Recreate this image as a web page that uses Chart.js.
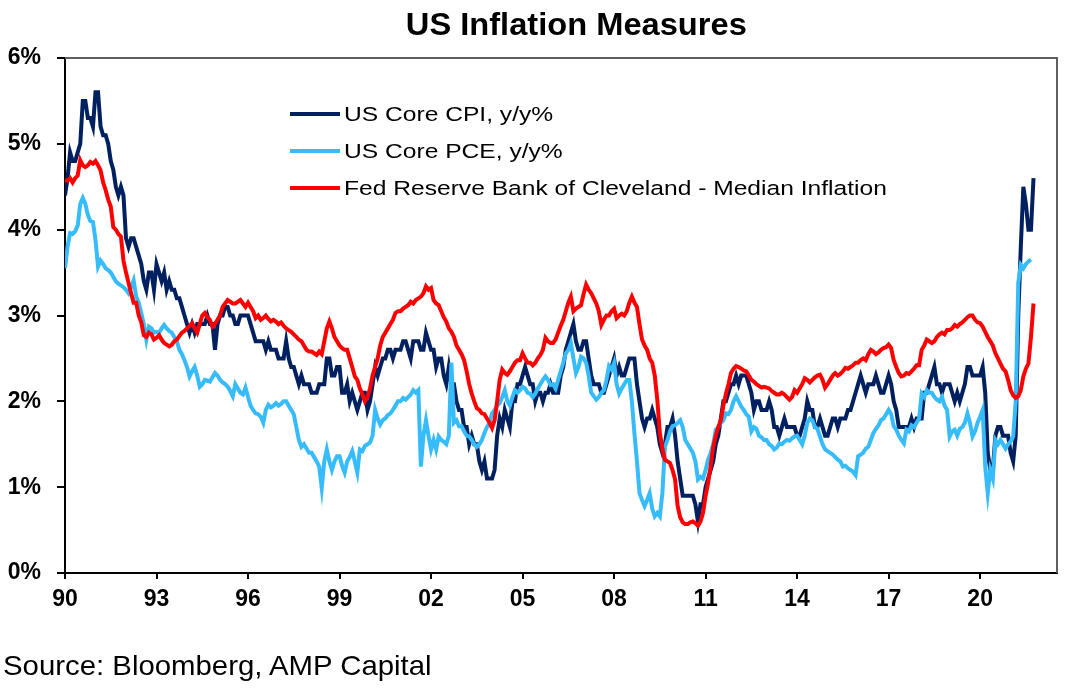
<!DOCTYPE html>
<html>
<head>
<meta charset="utf-8">
<title>US Inflation Measures</title>
<script src="https://cdn.jsdelivr.net/npm/chart.js@4.4.1/dist/chart.umd.min.js"></script>
<style>
  body { margin: 0; background: #fff; font-family: "Liberation Sans", Arial, sans-serif; color: #000; }
  #wrap { position: relative; width: 1084px; height: 695px; overflow: hidden; }
  #title { position: absolute; left: 0; top: 7px; width: 1152px; text-align: center; font-weight: bold; font-size: 30.5px; line-height: 34px; }
  #title span { display: inline-block; transform: scaleX(1.07); }
  #source { position: absolute; left: 3px; top: 649px; font-size: 28.5px; line-height: 32px; white-space: nowrap; }
  #source span { display: inline-block; transform: scaleX(1.03); transform-origin: left center; }
  #legend { position: absolute; left: 290px; top: 95.5px; }
  .item { display: flex; align-items: center; height: 37px; white-space: nowrap; }
  .swatch { width: 50px; height: 4px; margin-right: 4px; }
  .label { font-size: 20.5px; display: inline-block; transform: scaleX(1.2); transform-origin: left center; }
</style>
</head>
<body>
<div id="wrap">
  <canvas id="chart" width="1084" height="695"></canvas>
  <div id="title"><span>US Inflation Measures</span></div>
  <div id="legend"></div>
  <div id="source"><span>Source: Bloomberg, AMP Capital</span></div>
</div>
<script>
// Monthly y/y %, Jan 1990 onwards (one row per year)
const coreCpi = [
  4.4, 4.6, 4.9, 4.8, 4.8, 4.9, 5.0, 5.5, 5.5, 5.3, 5.3, 5.2,
  5.6, 5.6, 5.2, 5.1, 5.1, 5.0, 4.8, 4.7, 4.5, 4.4, 4.5, 4.4,
  3.9, 3.8, 3.9, 3.9, 3.8, 3.7, 3.6, 3.4, 3.3, 3.5, 3.5, 3.3,
  3.6, 3.5, 3.4, 3.5, 3.3, 3.4, 3.3, 3.3, 3.2, 3.2, 3.1, 3.0,
  2.9, 2.8, 2.9, 2.8, 2.9, 2.9, 2.9, 2.9, 3.0, 2.9, 2.9, 2.6,
  2.9, 3.0, 3.0, 3.1, 3.1, 3.0, 3.0, 2.9, 2.9, 3.0, 3.0, 3.0,
  3.0, 2.9, 2.8, 2.7, 2.7, 2.7, 2.7, 2.6, 2.7, 2.6, 2.6, 2.6,
  2.5, 2.5, 2.5, 2.7, 2.5, 2.4, 2.4, 2.3, 2.2, 2.3, 2.2, 2.2,
  2.2, 2.1, 2.1, 2.1, 2.2, 2.2, 2.2, 2.5, 2.5, 2.3, 2.3, 2.4,
  2.4, 2.1, 2.1, 2.2, 2.0, 2.1, 2.0, 1.9, 2.0, 2.1, 2.1, 1.9,
  2.0, 2.2, 2.4, 2.3, 2.4, 2.5, 2.5, 2.6, 2.6, 2.5, 2.6, 2.6,
  2.6, 2.7, 2.7, 2.6, 2.5, 2.7, 2.7, 2.7, 2.6, 2.6, 2.8, 2.7,
  2.6, 2.6, 2.4, 2.5, 2.5, 2.3, 2.2, 2.4, 2.2, 2.2, 2.0, 1.9,
  1.9, 1.7, 1.7, 1.5, 1.6, 1.5, 1.5, 1.3, 1.2, 1.3, 1.1, 1.1,
  1.1, 1.2, 1.6, 1.8, 1.7, 1.9, 1.8, 1.7, 2.0, 2.0, 2.2, 2.2,
  2.3, 2.4, 2.3, 2.2, 2.2, 2.0, 2.1, 2.1, 2.0, 2.1, 2.1, 2.2,
  2.1, 2.1, 2.1, 2.3, 2.4, 2.6, 2.7, 2.8, 2.9, 2.7, 2.6, 2.6,
  2.7, 2.7, 2.5, 2.3, 2.2, 2.2, 2.2, 2.1, 2.1, 2.2, 2.3, 2.4,
  2.5, 2.3, 2.4, 2.3, 2.3, 2.4, 2.5, 2.5, 2.5, 2.2, 2.0, 1.8,
  1.7, 1.8, 1.8, 1.9, 1.8, 1.7, 1.5, 1.4, 1.5, 1.7, 1.7, 1.8,
  1.6, 1.3, 1.1, 0.9, 0.9, 0.9, 0.9, 0.9, 0.8, 0.6, 0.8, 0.8,
  1.0, 1.1, 1.2, 1.3, 1.5, 1.6, 1.8, 2.0, 2.0, 2.1, 2.2, 2.2,
  2.3, 2.2, 2.3, 2.3, 2.3, 2.2, 2.1, 1.9, 2.0, 2.0, 1.9, 1.9,
  1.9, 2.0, 1.9, 1.7, 1.7, 1.6, 1.7, 1.8, 1.7, 1.7, 1.7, 1.7,
  1.6, 1.6, 1.7, 1.8, 2.0, 1.9, 1.9, 1.7, 1.7, 1.8, 1.7, 1.6,
  1.6, 1.7, 1.8, 1.8, 1.7, 1.8, 1.8, 1.8, 1.9, 1.9, 2.0, 2.1,
  2.2, 2.3, 2.2, 2.1, 2.2, 2.2, 2.2, 2.3, 2.2, 2.1, 2.1, 2.2,
  2.3, 2.2, 2.0, 1.9, 1.7, 1.7, 1.7, 1.7, 1.7, 1.8, 1.7, 1.8,
  1.8, 1.8, 2.1, 2.1, 2.2, 2.3, 2.4, 2.2, 2.2, 2.1, 2.2, 2.2,
  2.2, 2.1, 2.0, 2.1, 2.0, 2.1, 2.2, 2.4, 2.4, 2.3, 2.3, 2.3,
  2.3, 2.4, 2.1, 1.4, 1.2, 1.2, 1.6, 1.7, 1.7, 1.6, 1.6, 1.6,
  1.4, 1.3, 1.6, 3.0, 3.8, 4.5, 4.3, 4.0, 4.0, 4.6
];

const corePce = [
  3.55, 3.8, 3.96, 3.95, 3.98, 4.05, 4.3, 4.37, 4.3, 4.17, 4.1, 4.09,
  3.88, 3.57, 3.64, 3.6, 3.55, 3.53, 3.5, 3.45, 3.4, 3.37, 3.35, 3.33,
  3.3, 3.26, 3.33, 3.41, 3.22, 3.15, 3.03, 2.9, 2.72, 2.87, 2.85, 2.8,
  2.81, 2.8, 2.85, 2.89, 2.85, 2.82, 2.8, 2.75, 2.7, 2.6, 2.55, 2.48,
  2.4, 2.29, 2.35, 2.4, 2.3, 2.17, 2.2, 2.25, 2.24, 2.23, 2.28, 2.33,
  2.3, 2.25, 2.22, 2.2, 2.17, 2.12, 2.06, 2.2, 2.15, 2.1, 2.08, 2.16,
  2.05, 1.95, 1.9, 1.86, 1.85, 1.82, 1.75, 1.9, 1.96, 1.93, 1.95, 1.98,
  1.95, 1.97, 2.0, 2.0, 1.95, 1.9, 1.85, 1.7, 1.55, 1.47, 1.5, 1.45,
  1.4, 1.4, 1.35, 1.3, 1.24, 0.99, 1.3, 1.44, 1.3, 1.2, 1.3, 1.36,
  1.36, 1.25, 1.17, 1.3, 1.35, 1.42, 1.3, 1.17, 1.44, 1.42, 1.48, 1.5,
  1.52, 1.6, 1.9, 1.8, 1.73, 1.78, 1.8, 1.84, 1.86, 1.9, 1.95, 2.0,
  2.0, 2.04, 2.02, 2.05, 2.08, 2.13, 2.1, 2.13, 1.24, 1.6, 1.78, 1.6,
  1.44, 1.55, 1.44, 1.59, 1.55, 1.53, 1.5, 1.6, 2.45, 1.75, 1.78, 1.71,
  1.71, 1.65, 1.6, 1.59, 1.55, 1.5, 1.47, 1.5, 1.55, 1.63, 1.7, 1.75,
  1.86, 1.9, 1.95, 1.98, 2.05, 2.13, 2.0, 1.95, 2.05, 2.13, 2.1, 2.13,
  2.17, 2.15, 2.1, 2.09, 2.05, 2.09, 2.15, 2.2, 2.25, 2.29, 2.25, 2.19,
  2.2, 2.15, 2.25, 2.35, 2.45, 2.56, 2.6, 2.68, 2.5, 2.33, 2.4, 2.52,
  2.5, 2.45, 2.3, 2.1, 2.06, 2.02, 2.05, 2.1, 2.13, 2.25, 2.41, 2.37,
  2.45, 2.2, 2.09, 2.15, 2.2, 2.25, 2.25, 2.0, 1.63, 1.3, 0.93, 0.85,
  0.78, 0.85, 0.93, 0.75, 0.66, 0.7, 0.66, 0.93, 1.47, 1.55, 1.65, 1.71,
  1.72, 1.75, 1.78, 1.7, 1.55, 1.5, 1.45, 1.4, 1.3, 1.09, 1.12, 1.1,
  1.2, 1.32, 1.4, 1.5, 1.67, 1.7, 1.75, 1.78, 1.86, 1.85, 1.9, 2.0,
  2.06, 2.0, 1.94, 1.9, 1.85, 1.82, 1.65, 1.7, 1.68, 1.6, 1.58, 1.55,
  1.55, 1.5, 1.48, 1.44, 1.46, 1.51, 1.5, 1.53, 1.55, 1.54, 1.57, 1.59,
  1.6, 1.55, 1.5, 1.6, 1.75, 1.8, 1.78, 1.7, 1.68, 1.59, 1.5, 1.44,
  1.42, 1.4, 1.38, 1.35, 1.32, 1.3, 1.24, 1.25, 1.22, 1.2, 1.18, 1.14,
  1.36, 1.38, 1.4, 1.45, 1.47, 1.55, 1.63, 1.68, 1.72, 1.78, 1.8, 1.85,
  1.9, 1.85, 1.71, 1.67, 1.6, 1.55, 1.51, 1.67, 1.65, 1.72, 1.7, 1.75,
  1.8, 2.09, 2.05, 2.13, 2.1, 2.1, 2.05, 2.02, 2.0, 2.05, 1.95, 1.9,
  1.59, 1.65, 1.67, 1.6, 1.68, 1.7, 1.75, 1.86, 1.75, 1.59, 1.65, 1.75,
  1.82, 1.9, 1.24, 0.93, 1.2, 1.1, 1.55, 1.5, 1.55, 1.5, 1.45, 1.5,
  1.53, 1.59, 2.0, 3.38, 3.59, 3.55, 3.6, 3.63, 3.65
];

const medianCpi = [
  4.58, 4.57, 4.6, 4.55, 4.6, 4.63, 4.81, 4.75, 4.73, 4.75, 4.79, 4.77,
  4.8, 4.75, 4.69, 4.55, 4.46, 4.35, 4.27, 4.03, 4.0, 3.95, 3.92, 3.64,
  3.5, 3.38, 3.26, 3.15, 3.15, 3.0, 2.92, 2.77, 2.75, 2.8, 2.78, 2.72,
  2.74, 2.77, 2.72, 2.68, 2.66, 2.64, 2.66, 2.7, 2.72, 2.76, 2.8, 2.82,
  2.85, 2.88, 2.91, 2.85, 2.8, 2.9, 3.0, 3.03, 2.98, 2.95, 2.87, 2.9,
  2.95, 3.0, 3.1, 3.14, 3.18, 3.16, 3.14, 3.14, 3.16, 3.18, 3.14, 3.1,
  3.15, 3.1, 3.05, 2.97, 3.0, 2.95, 2.97, 3.0, 2.96, 2.93, 2.95, 2.93,
  2.9, 2.92, 2.88, 2.85, 2.83, 2.81, 2.78, 2.75, 2.72, 2.7, 2.65, 2.6,
  2.58, 2.58, 2.56, 2.54, 2.58, 2.55, 2.7, 2.85, 2.93, 2.85, 2.75, 2.7,
  2.65, 2.62, 2.6, 2.6, 2.5, 2.4, 2.29, 2.25, 2.15, 2.08, 2.0, 2.05,
  2.15, 2.3, 2.4, 2.5, 2.65, 2.75, 2.8, 2.85, 2.9, 2.95, 3.03, 3.05,
  3.05, 3.08, 3.1, 3.12, 3.16, 3.14, 3.18, 3.2, 3.22, 3.26, 3.34, 3.3,
  3.32, 3.18, 3.14, 3.12, 3.05, 2.98, 2.93, 2.85, 2.81, 2.75, 2.65, 2.6,
  2.55, 2.48, 2.35, 2.2, 2.09, 2.0, 1.92, 1.9, 1.86, 1.85, 1.8, 1.75,
  1.69, 1.78, 2.0, 2.25, 2.37, 2.33, 2.31, 2.35, 2.4, 2.45, 2.48, 2.48,
  2.56, 2.5, 2.45, 2.45, 2.42, 2.45, 2.5, 2.54, 2.6, 2.74, 2.7, 2.68,
  2.68, 2.72, 2.8, 2.88, 2.95, 3.05, 3.15, 3.22, 3.05, 3.08, 3.1, 3.12,
  3.25, 3.36, 3.3, 3.26, 3.2, 3.14, 3.05, 2.89, 2.95, 3.0, 3.0, 3.05,
  3.08, 2.97, 3.0, 3.02, 3.0, 3.05, 3.15, 3.22, 3.15, 3.1, 2.9, 2.72,
  2.65, 2.6, 2.5, 2.45, 2.3, 2.02, 1.63, 1.45, 1.32, 1.3, 1.28, 1.2,
  1.09, 0.78, 0.65, 0.59, 0.57, 0.57, 0.59, 0.6, 0.58, 0.55, 0.6, 0.7,
  0.9, 1.05, 1.25, 1.47, 1.6, 1.7, 1.78, 1.95, 2.09, 2.2, 2.33, 2.38,
  2.41, 2.4, 2.38, 2.36, 2.35, 2.3, 2.25, 2.23, 2.2, 2.18, 2.16, 2.17,
  2.16, 2.15, 2.12, 2.1, 2.08, 2.08, 2.1, 2.08, 2.05, 2.02, 2.05, 2.13,
  2.1, 2.15, 2.2, 2.27, 2.25, 2.22, 2.25, 2.28, 2.3, 2.31, 2.25, 2.16,
  2.2, 2.25, 2.3, 2.33, 2.3, 2.32, 2.35, 2.39, 2.38, 2.4, 2.42, 2.45,
  2.45, 2.48, 2.5, 2.48, 2.55, 2.6, 2.58, 2.55, 2.57, 2.6, 2.62, 2.63,
  2.66, 2.62, 2.48, 2.4, 2.33, 2.29, 2.3, 2.33, 2.32, 2.35, 2.38, 2.42,
  2.42, 2.6, 2.65, 2.72, 2.7, 2.68, 2.7, 2.75, 2.78, 2.8, 2.78, 2.83,
  2.83, 2.85, 2.89, 2.87, 2.9, 2.92, 2.95, 2.98, 3.0, 3.0, 2.95, 2.92,
  2.91, 2.87, 2.81, 2.75, 2.7, 2.65, 2.56, 2.5, 2.44, 2.38, 2.35, 2.25,
  2.13, 2.07, 2.04, 2.06, 2.13, 2.29, 2.38, 2.44, 2.75, 3.14
];

const startYear = 1990;
const xTicks = [1990, 1993, 1996, 1999, 2002, 2005, 2008, 2011, 2014, 2017, 2020];
const yTicks = [0, 1, 2, 3, 4, 5, 6];

// x position of each month as a decimal year (Jan 1990 = 1990.0)
const months = coreCpi.map((v, i) => startYear + i / 12);

const tickFont = { family: "'Liberation Sans', Arial, sans-serif", size: 23, weight: 'bold' };

// grey frame on top and right of the plot
const framePlugin = {
  id: 'frame',
  afterDraw(chart) {
    const { ctx, chartArea: a } = chart;
    ctx.save();
    ctx.strokeStyle = '#5f5f5f';
    ctx.lineWidth = 2;
    ctx.beginPath();
    ctx.moveTo(a.left, a.top);
    ctx.lineTo(a.right, a.top);
    ctx.lineTo(a.right, a.bottom);
    ctx.stroke();
    ctx.restore();
  }
};

const myChart = new Chart(document.getElementById('chart'), {
  type: 'line',
  data: {
    labels: months,
    datasets: [
      { label: 'US Core CPI, y/y%', data: coreCpi, borderColor: '#002060', order: 2 },
      { label: 'US Core PCE, y/y%', data: corePce, borderColor: '#36bcfb', order: 1 },
      { label: 'Fed Reserve Bank of Cleveland - Median Inflation', data: medianCpi, borderColor: '#ff0000', order: 0 }
    ]
  },
  options: {
    responsive: false,
    animation: false,
    layout: { padding: { top: 58, right: 27, left: 0, bottom: 0 } },
    elements: {
      line: { borderWidth: 4, tension: 0, fill: false },
      point: { radius: 0, hoverRadius: 0 }
    },
    plugins: {
      legend: { display: false },
      tooltip: { enabled: false }
    },
    scales: {
      x: {
        type: 'linear',
        min: 1990,
        max: 2022.52,
        afterFit: s => { s.height = 122; },
        afterBuildTicks: s => { s.ticks = xTicks.map(v => ({ value: v })); },
        ticks: {
          color: '#000',
          font: tickFont,
          padding: 7,
          maxRotation: 0,
          autoSkip: false,
          callback: v => String(v).slice(2)
        },
        grid: { drawOnChartArea: false, drawTicks: true, tickLength: 6, color: '#000', lineWidth: 2 },
        border: { color: '#000', width: 2 }
      },
      y: {
        min: 0,
        max: 6,
        afterFit: s => { s.width = 65; },
        afterBuildTicks: s => { s.ticks = yTicks.map(v => ({ value: v })); },
        ticks: {
          color: '#000',
          font: tickFont,
          padding: 16,
          callback: v => v + '%'
        },
        grid: { drawOnChartArea: false, drawTicks: true, tickLength: 8, color: '#000', lineWidth: 2 },
        border: { color: '#000', width: 2 }
      }
    }
  },
  plugins: [framePlugin]
});

// legend inside the plot, built from the datasets
const $legend = document.getElementById('legend');
myChart.data.datasets.forEach(ds => {
  const row = document.createElement('div');
  row.className = 'item';
  const sw = document.createElement('span');
  sw.className = 'swatch';
  sw.style.background = ds.borderColor;
  const txt = document.createElement('span');
  txt.className = 'label';
  txt.textContent = ds.label;
  row.appendChild(sw);
  row.appendChild(txt);
  $legend.appendChild(row);
});
</script>
</body>
</html>
